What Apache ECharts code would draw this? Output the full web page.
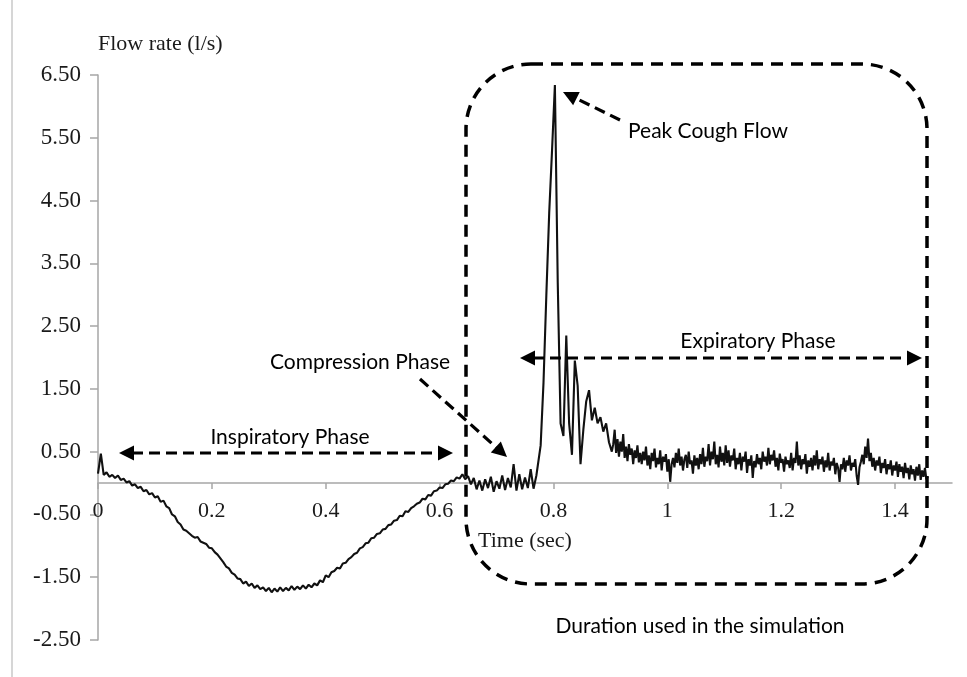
<!DOCTYPE html>
<html>
<head>
<meta charset="utf-8">
<script src="https://cdn.jsdelivr.net/npm/echarts@6/dist/echarts.min.js"></script>
<style>
html,body{margin:0;padding:0;background:#fff;}
#chart{width:967px;height:677px;}
</style>
</head>
<body>
<div id="chart"></div>
<script>
// ---- data (flow rate in l/s) ----
// segment A: inspiration + compression, t = 0 ... 0.770 s every 5 ms
const segAStart = 0, segAStep = 0.005;
const flowInspiratory = [
  0.15,0.47,0.13,0.17,0.10,0.13,0.08,0.12,0.05,0.07,
  0.01,0.03,-0.04,-0.02,-0.08,-0.06,-0.13,-0.11,-0.18,-0.16,
  -0.23,-0.21,-0.30,-0.28,-0.37,-0.40,-0.50,-0.53,-0.62,-0.66,
  -0.74,-0.76,-0.80,-0.84,-0.87,-0.86,-0.93,-0.95,-0.97,-1.03,
  -1.04,-1.10,-1.14,-1.20,-1.26,-1.33,-1.36,-1.43,-1.46,-1.52,
  -1.53,-1.60,-1.57,-1.64,-1.60,-1.67,-1.63,-1.69,-1.66,-1.72,
  -1.67,-1.74,-1.68,-1.73,-1.66,-1.72,-1.67,-1.71,-1.64,-1.70,
  -1.65,-1.69,-1.63,-1.68,-1.62,-1.66,-1.60,-1.63,-1.55,-1.58,
  -1.47,-1.50,-1.42,-1.40,-1.35,-1.36,-1.28,-1.27,-1.21,-1.18,
  -1.13,-1.11,-1.04,-1.02,-0.96,-0.95,-0.88,-0.87,-0.81,-0.80,
  -0.74,-0.73,-0.67,-0.66,-0.60,-0.59,-0.52,-0.53,-0.45,-0.46,
  -0.40,-0.37,-0.33,-0.31,-0.25,-0.26,-0.19,-0.20,-0.13,-0.12,
  -0.07,-0.08,-0.02,-0.01,0.04,0.03,0.09,0.07,0.14,0.06
];
const flowCompression = [
  0.11,-0.02,0.08,-0.10,0.04,-0.12,0.06,-0.08,0.10,-0.14,
  0.03,-0.09,0.12,-0.11,0.08,-0.07,0.30,-0.12,0.14,-0.10,
  0.09,-0.08,0.22,-0.09,0.12
];
// segment B: cough burst, t = 0.7775 ... 0.9025 s every 5 ms
const segBStart = 0.7775, segBStep = 0.005;
const flowPeak = [
  0.60,1.60,3.00,4.30,5.30,6.34,3.20,0.95,0.75,2.35,
  0.95,0.45,1.95,1.55,0.30,0.85,1.30,1.48,1.00,1.20,
  0.95,1.05,0.82,0.95,0.65,0.50
];
// segment C: expiratory tail, t = 0.905 ... 1.4575 s every 2.5 ms
const segCStart = 0.905, segCStep = 0.0025;
const flowTail = [
  0.62,0.85,0.48,0.70,0.42,0.66,0.50,0.78,0.40,0.58,0.35,0.62,0.45,0.55,0.30,0.52,0.40,0.60,0.33,0.48,
  0.30,0.50,0.36,0.58,0.28,0.44,0.22,0.48,0.35,0.55,0.25,0.40,0.30,0.52,0.20,0.42,0.34,0.46,0.18,0.38,
  0.02,0.30,0.40,0.25,0.48,0.32,0.55,0.28,0.42,0.20,0.38,0.45,0.24,0.50,0.30,0.36,0.15,0.44,0.28,0.40,
  0.22,0.46,0.30,0.56,0.26,0.42,0.35,0.62,0.28,0.50,0.38,0.66,0.30,0.45,0.25,0.58,0.34,0.48,0.28,0.60,
  0.32,0.52,0.26,0.44,0.36,0.55,0.22,0.40,0.30,0.48,0.20,0.42,0.34,0.50,0.16,0.38,0.28,0.44,0.08,0.35,
  0.25,0.46,0.30,0.40,0.22,0.50,0.34,0.42,0.28,0.56,0.30,0.45,0.36,0.52,0.26,0.40,0.20,0.47,0.32,0.38,
  0.18,0.42,0.30,0.36,0.24,0.48,0.20,0.40,0.32,0.66,0.28,0.44,0.22,0.38,0.30,0.46,0.15,0.36,0.26,0.40,
  0.20,0.44,0.28,0.52,0.22,0.38,0.30,0.42,0.18,0.36,0.25,0.48,0.20,0.34,0.28,0.40,0.14,0.32,0.24,0.02,
  0.30,0.22,0.40,0.18,0.36,0.28,0.44,0.20,0.32,0.26,0.38,0.12,-0.03,0.25,0.34,0.45,0.30,0.58,0.40,0.71,
  0.35,0.48,0.26,0.40,0.20,0.36,0.28,0.42,0.16,0.32,0.24,0.38,0.14,0.30,0.22,0.36,0.12,0.28,0.20,0.34,
  0.10,0.30,0.18,0.26,0.08,0.32,0.16,0.24,0.06,0.28,0.14,0.22,0.04,0.26,0.12,0.30,0.05,0.20,0.10,0.24,
  0.06,0.10
];
const xTickValues = [0,0.2,0.4,0.6,0.8,1,1.2,1.4];
const yTickValues = [-2.5,-1.5,-0.5,0.5,1.5,2.5,3.5,4.5,5.5,6.5];
const axisTitles = { x: 'Time (sec)', y: 'Flow rate (l/s)' };
const annotationTexts = {
  insp: 'Inspiratory Phase',
  comp: 'Compression Phase',
  peak: 'Peak Cough Flow',
  exp: 'Expiratory Phase',
  dur: 'Duration used in the simulation'
};

// ---- build series ----
function timed(values, start, step) {
  return values.map((v, i) => [+(start + i * step).toFixed(5), v]);
}
const seriesData = [].concat(
  timed(flowInspiratory.concat(flowCompression), segAStart, segAStep),
  timed(flowPeak, segBStart, segBStep),
  timed(flowTail, segCStart, segCStep)
);

const W = 967, H = 677;
const gridBox = {left: 98, right: 15, top: 75, bottom: 37};
const yMin = -2.5, yMax = 6.5;
const gridH = H - gridBox.top - gridBox.bottom;
// move the x axis (line, ticks, labels, name) up to the zero line
const xAxisOffset = -((0 - yMin) / (yMax - yMin)) * gridH;

const chart = echarts.init(document.getElementById('chart'), null, {renderer: 'canvas'});
const serif = '"Liberation Serif","Times New Roman",serif';
const sans = 'Lato, Carlito, Calibri, sans-serif';
const axisGray = '#a6a6a6';

function arrow(x1, y1, x2, y2, startHead, endHead) {
  const els = [];
  const dx = x2 - x1, dy = y2 - y1, len = Math.hypot(dx, dy);
  const ux = dx / len, uy = dy / len;
  const hl = 15, hw = 7.5;
  const sx = startHead ? x1 + ux * (hl - 2) : x1;
  const sy = startHead ? y1 + uy * (hl - 2) : y1;
  const ex = endHead ? x2 - ux * (hl - 2) : x2;
  const ey = endHead ? y2 - uy * (hl - 2) : y2;
  els.push({type: 'line', shape: {x1: sx, y1: sy, x2: ex, y2: ey},
    style: {stroke: '#000', lineWidth: 3.2, lineDash: [11, 6]}, silent: true, z: 100});
  function head(tx, ty, dirx, diry) {
    const bx = tx - dirx * hl, by = ty - diry * hl;
    const px = -diry, py = dirx;
    return {type: 'polygon', shape: {points: [[tx, ty], [bx + px * hw, by + py * hw], [bx - px * hw, by - py * hw]]},
      style: {fill: '#000'}, silent: true, z: 100};
  }
  if (startHead) els.push(head(x1, y1, -ux, -uy));
  if (endHead) els.push(head(x2, y2, ux, uy));
  return els;
}

function label(text, x, y, align) {
  return {type: 'text', x: x, y: y, silent: true, z: 100,
    style: {text: text, font: '21px ' + sans, fill: '#000', align: align || 'center', verticalAlign: 'middle'}};
}

const graphics = [
  {type: 'line', shape: {x1: 12, y1: 0, x2: 12, y2: H}, style: {stroke: '#c8c8c8', lineWidth: 1.5}, silent: true},
  {type: 'text', x: 98, y: 44, silent: true,
    style: {text: axisTitles.y, font: '22px ' + serif, fill: '#1a1a1a', align: 'left', verticalAlign: 'middle'}},
  {type: 'rect', shape: {x: 466, y: 64, width: 461, height: 520, r: 65}, silent: true, z: 90,
    style: {fill: 'none', stroke: '#000', lineWidth: 3.5, lineDash: [12, 8]}},
  ...arrow(119, 453, 453, 453, true, true),
  label(annotationTexts.insp, 290, 437),
  ...arrow(420, 379, 507, 457, false, true),
  label(annotationTexts.comp, 360, 362),
  ...arrow(620, 120, 563, 92, false, true),
  label(annotationTexts.peak, 628, 131, 'left'),
  ...arrow(520, 358, 922, 358, true, true),
  label(annotationTexts.exp, 758, 341),
  label(annotationTexts.dur, 700, 626)
];

chart.setOption({
  animation: false,
  backgroundColor: '#fff',
  grid: Object.assign({containLabel: false, outerBoundsMode: 'none'}, gridBox),
  xAxis: {
    type: 'value', min: 0, max: 1.5, position: 'bottom', offset: xAxisOffset,
    name: axisTitles.x, nameLocation: 'middle', nameGap: 47,
    nameTextStyle: {fontFamily: serif, fontSize: 22, color: '#1a1a1a'},
    axisLine: {onZero: false, lineStyle: {color: axisGray, width: 1.5}},
    axisTick: {show: true, length: 6, customValues: xTickValues, lineStyle: {color: axisGray, width: 1.5}},
    axisLabel: {customValues: xTickValues, margin: 17, fontFamily: serif, fontSize: 22, color: '#1a1a1a',
      formatter: v => String(+v.toFixed(1))},
    splitLine: {show: false}
  },
  yAxis: {
    type: 'value', min: yMin, max: yMax,
    axisLine: {show: true, onZero: false, lineStyle: {color: axisGray, width: 1.5}},
    axisTick: {show: true, length: 8, customValues: yTickValues, lineStyle: {color: axisGray, width: 1.5}},
    axisLabel: {customValues: yTickValues, margin: 17, fontFamily: serif, fontSize: 23, color: '#1a1a1a',
      formatter: v => v.toFixed(2)},
    splitLine: {show: false}
  },
  series: [{
    type: 'line', data: seriesData, showSymbol: false, symbol: 'none',
    lineStyle: {color: '#111', width: 2.1}, z: 10
  }],
  graphic: graphics
});
</script>
</body>
</html>
